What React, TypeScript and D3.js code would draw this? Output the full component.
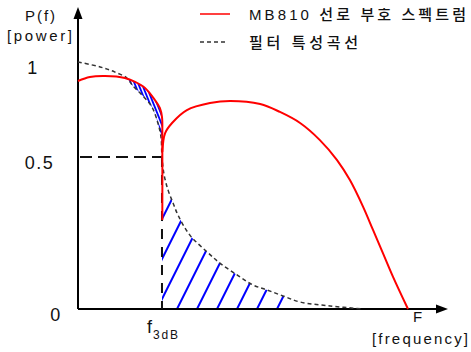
import React, { useEffect, useRef } from 'react';
import * as d3 from 'd3';

// MB810 line code spectrum - left lobe (0 .. f3dB), f as fraction of F
const redLeftF = [0, 0.036, 0.082, 0.142, 0.173, 0.203, 0.233, 0.248, 0.2545, 0.2555, 0.2555];
const redLeftP = [0.9, 0.921, 0.926, 0.916, 0.895, 0.863, 0.8, 0.758, 0.711, 0.605, 0.293];

// MB810 spectrum - right lobe (f3dB .. F)
const redRightF = [0.2555, 0.264, 0.285, 0.33, 0.4, 0.461, 0.552, 0.612, 0.673, 0.733, 0.785, 0.824, 0.864, 0.894, 0.924, 0.955, 1];
const redRightP = [0.526, 0.626, 0.679, 0.747, 0.784, 0.795, 0.779, 0.737, 0.679, 0.589, 0.49, 0.424, 0.336, 0.26, 0.184, 0.105, 0];

// filter characteristic
const filterF = [0, 0.067, 0.112, 0.148, 0.164, 0.194, 0.224, 0.242, 0.2515, 0.2545, 0.261, 0.273, 0.288, 0.303, 0.339, 0.391, 0.43, 0.482, 0.53, 0.573, 0.621, 0.673, 0.764, 0.864];
const filterP = [1, 0.974, 0.947, 0.916, 0.879, 0.826, 0.763, 0.679, 0.605, 0.5, 0.441, 0.391, 0.349, 0.309, 0.243, 0.188, 0.151, 0.112, 0.079, 0.0625, 0.043, 0.023, 0.01, 0];

const f3dB = 0.2545;
const yTicks = [0, 0.5, 1];
const yTickLabels = ['0', '0.5', '1'];
const legendLabels = ['MB810 선로 부호 스펙트럼', '필터 특성곡선'];

const font = "'Liberation Sans', 'Noto Sans CJK KR', sans-serif";

const App = () => {
  const ref = useRef<SVGSVGElement>(null);

  useEffect(() => {
    var svg = d3.select(ref.current);
    svg.selectAll('*').remove();

    var x = d3.scaleLinear().domain([0, 1]).range([78, 408]);
    // schematic power axis: 0.5 and 1 are not evenly spaced in the drawing
    var y = d3.scaleLinear().domain([0, 0.5, 1]).range([309, 157, 62]);

    var zip = (fs: number[], ps: number[]) => fs.map((f, i) => [f, ps[i]] as [number, number]);
    var redLeft = zip(redLeftF, redLeftP);
    var redRight = zip(redRightF, redRightP);
    var filt = zip(filterF, filterP);

    var line = d3.line<[number, number]>()
      .x(d => x(d[0]))
      .y(d => y(d[1]))
      .curve(d3.curveCatmullRom.alpha(0.5));

    var defs = svg.append('defs');

    // upper hatch: between red (above) and filter (below), after the crossover
    var upRed = redLeft.filter(d => d[0] >= 0.142 && d[1] >= 0.6);
    var upFilt = filt.filter(d => d[0] >= 0.148 && d[0] <= f3dB).reverse();
    defs.append('clipPath').attr('id', 'clipUp')
      .append('path')
      .attr('d', line(upRed)! + line(upFilt)!.replace(/^M/, 'L') + 'Z');

    // lower hatch: under filter curve, right of f3dB
    var lowFilt = filt.filter(d => d[0] >= f3dB);
    defs.append('clipPath').attr('id', 'clipLow')
      .append('path')
      .attr('d', line(lowFilt)! + `L${x(lowFilt[lowFilt.length - 1][0])},${y(0)}L${x(f3dB)},${y(0)}Z`);

    var gUp = svg.append('g').attr('clip-path', 'url(#clipUp)');
    gUp.selectAll('line')
      .data(d3.range(100, 176, 3.6))
      .enter()
      .append('line')
      .attr('x1', d => d).attr('y1', 60)
      .attr('x2', d => d + 40).attr('y2', 160)
      .attr('stroke', '#0000ff')
      .attr('stroke-width', 1.8);

    var gLow = svg.append('g').attr('clip-path', 'url(#clipLow)');
    gLow.selectAll('line')
      .data(d3.range(117, 280, 20))
      .enter()
      .append('line')
      .attr('x1', d => d).attr('y1', y(0))
      .attr('x2', d => d + 60).attr('y2', y(0) - 120)
      .attr('stroke', '#0000ff')
      .attr('stroke-width', 2);

    // axes
    svg.append('line')
      .attr('x1', x(0)).attr('y1', y(0))
      .attr('x2', x(0)).attr('y2', 16)
      .attr('stroke', '#000').attr('stroke-width', 2);
    svg.append('path')
      .attr('d', `M${x(0)},7L${x(0) + 4.5},19L${x(0) - 4.5},19Z`)
      .attr('fill', '#000');
    svg.append('line')
      .attr('x1', x(0)).attr('y1', y(0))
      .attr('x2', 440).attr('y2', y(0))
      .attr('stroke', '#000').attr('stroke-width', 2);
    svg.append('path')
      .attr('d', `M448,${y(0)}L436,${y(0) - 4.5}L436,${y(0) + 4.5}Z`)
      .attr('fill', '#000');

    // 0.5 / f3dB guide lines
    svg.append('line')
      .attr('x1', x(0)).attr('y1', y(0.5))
      .attr('x2', x(f3dB)).attr('y2', y(0.5))
      .attr('stroke', '#111').attr('stroke-width', 2)
      .attr('stroke-dasharray', '12,6').attr('stroke-dashoffset', -2);
    svg.append('line')
      .attr('x1', x(f3dB)).attr('y1', y(0.5))
      .attr('x2', x(f3dB)).attr('y2', y(0))
      .attr('stroke', '#111').attr('stroke-width', 2)
      .attr('stroke-dasharray', '10,8');

    // filter curve
    svg.append('path')
      .attr('d', line(filt))
      .attr('fill', 'none')
      .attr('stroke', '#333')
      .attr('stroke-width', 1.5)
      .attr('stroke-dasharray', '4,3');

    // spectrum
    [redLeft, redRight].forEach(pts => {
      svg.append('path')
        .attr('d', line(pts))
        .attr('fill', 'none')
        .attr('stroke', '#ff0000')
        .attr('stroke-width', 2);
    });

    // tick labels
    var tickX = [56, 39.5, 33];
    svg.selectAll('.tick')
      .data(yTicks)
      .enter()
      .append('text')
      .attr('class', 'tick')
      .attr('x', (d, i) => tickX[i])
      .attr('y', d => y(d) + 12)
      .attr('text-anchor', 'middle')
      .attr('font-size', 18)
      .attr('letter-spacing', 1.5)
      .attr('font-family', font)
      .attr('fill', '#111')
      .text((d, i) => yTickLabels[i]);

    var txt = (s: string, tx: number, ty: number, size: number, len?: number) => {
      var t = svg.append('text')
        .attr('x', tx).attr('y', ty)
        .attr('font-size', size)
        .attr('font-family', font)
        .attr('fill', '#111')
        .text(s);
      if (len) t.attr('textLength', len).attr('lengthAdjust', 'spacing');
      return t;
    };

    txt('P(f)', 25, 21, 15, 30);
    txt('[power]', 7, 41, 15, 65);
    txt('F', 413, 322, 15);
    txt('[frequency]', 372, 344, 15, 96);
    txt('f', 147, 333, 18);
    txt('3dB', 153, 339, 12, 25);

    // legend
    svg.append('line')
      .attr('x1', 200).attr('y1', 14).attr('x2', 230).attr('y2', 14)
      .attr('stroke', '#ff0000').attr('stroke-width', 1.5);
    svg.append('line')
      .attr('x1', 200).attr('y1', 42).attr('x2', 228).attr('y2', 42)
      .attr('stroke', '#333').attr('stroke-width', 1.3)
      .attr('stroke-dasharray', '4,3');
    txt(legendLabels[0], 249, 20, 15, 217).attr('font-weight', 500);
    txt(legendLabels[1], 249, 48, 15, 109).attr('font-weight', 500);
  }, []);

  return (
    <div style={{ position: 'absolute', left: 0, top: 0 }}>
      <svg ref={ref} width={471} height={352} style={{ display: 'block', background: '#fff' }}></svg>
    </div>
  );
};

export default App;
